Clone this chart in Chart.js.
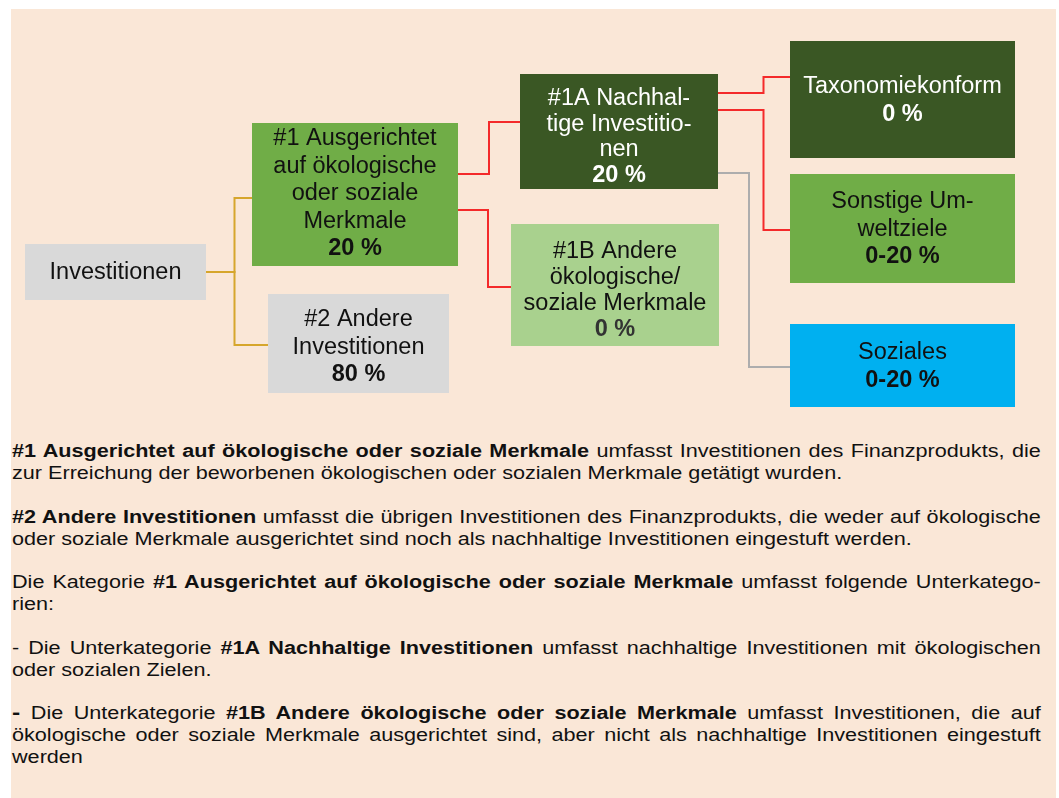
<!DOCTYPE html>
<html>
<head>
<meta charset="utf-8">
<script src="https://cdn.jsdelivr.net/npm/chart.js@4/dist/chart.umd.min.js"></script>
<style>
  html, body { margin: 0; padding: 0; background: #ffffff; }
  body { width: 1059px; height: 798px; position: relative; overflow: hidden; font-family: 'Liberation Sans', Arial, sans-serif; }
  #panel { position: absolute; left: 11px; top: 9px; width: 1045px; height: 800px; background: #FAE7D7; }
  #wrap { position: absolute; left: 0; top: 0; width: 1059px; height: 420px; }
  /* the printed notes are set a little wider than tall */
  #notes { position: absolute; left: 12px; top: 440px; width: 833px; font-size: 17.5px; line-height: 22px; color: #111; text-align: justify; transform: scaleX(1.235); transform-origin: 0 0; }
  #notes p { margin: 0 0 21.5px 0; }
  .dash { font-weight: bold; font-size: 20px; line-height: 0; }
</style>
</head>
<body>
<div id="panel"></div>
<div id="wrap"><canvas id="tree"></canvas></div>
<div id="notes">
  <p><b>#1 Ausgerichtet auf ökologische oder soziale Merkmale</b> umfasst Investitionen des Finanzprodukts, die zur Erreichung der beworbenen ökologischen oder sozialen Merkmale getätigt wurden.</p>
  <p><b>#2 Andere Investitionen</b> umfasst die übrigen Investitionen des Finanzprodukts, die weder auf ökologische oder soziale Merkmale ausgerichtet sind noch als nachhaltige Investitionen eingestuft werden.</p>
  <p>Die Kategorie <b>#1 Ausgerichtet auf ökologische oder soziale Merkmale</b> umfasst folgende Unterkatego&shy;rien:</p>
  <p>- Die Unterkategorie <b>#1A Nachhaltige Investitionen</b> umfasst nachhaltige Investitionen mit ökologischen oder sozialen Zielen.</p>
  <p><span class="dash">-</span> Die Unterkategorie <b>#1B Andere ökologische oder soziale Merkmale</b> umfasst Investitionen, die auf ökologische oder soziale Merkmale ausgerichtet sind, aber nicht als nachhaltige Investitionen eingestuft werden</p>
</div>
<script>
// categories of the tree, as printed in the boxes
const nodeLines = [
  ['Investitionen'],
  ['#1 Ausgerichtet', 'auf ökologische', 'oder soziale', 'Merkmale'],
  ['#2 Andere', 'Investitionen'],
  ['#1A Nachhal-', 'tige Investitio-', 'nen'],
  ['#1B Andere', 'ökologische/', 'soziale Merkmale'],
  ['Taxonomiekonform'],
  ['Sonstige Um-', 'weltziele'],
  ['Soziales']
];
// share of investments per node
const nodeShares = ['', '20 %', '80 %', '20 %', '0 %', '0 %', '0-20 %', '0-20 %'];
// parent -> child links
const links = [[0, 1], [0, 2], [1, 3], [1, 4], [3, 5], [3, 6], [3, 7]];

// layout (diagram units = px of the 1059x420 drawing area)
const boxes = [
  { x0: 25, x1: 206, y0: 244, y1: 300, lh: 27 },
  { x0: 252, x1: 458, y0: 123, y1: 266, lh: 27.5 },
  { x0: 268, x1: 449, y0: 294, y1: 393, lh: 27.5 },
  { x0: 520, x1: 718, y0: 74, y1: 189, lh: 25.5 },
  { x0: 511, x1: 719, y0: 224, y1: 346, lh: 26 },
  { x0: 790, x1: 1015, y0: 41, y1: 158, lh: 28 },
  { x0: 790, x1: 1015, y0: 174, y1: 283, lh: 27.5 },
  { x0: 790, x1: 1015, y0: 324, y1: 407, lh: 28 }
];
const boxStyle = [
  { fill: '#D9D9D9', text: '#111111', share: '#111111' },
  { fill: '#70AD47', text: '#111111', share: '#111111' },
  { fill: '#D9D9D9', text: '#111111', share: '#111111' },
  { fill: '#3A5724', text: '#FFFFFF', share: '#FFFFFF' },
  { fill: '#A9D18E', text: '#111111', share: '#333333' },
  { fill: '#3A5724', text: '#FFFFFF', share: '#FFFFFF' },
  { fill: '#70AD47', text: '#111111', share: '#111111' },
  { fill: '#00B0F0', text: '#111111', share: '#111111' }
];
const textShift = [0, -1.5, 3, 4.5, 5, 0.5, 0, 0.5];
// where each link leaves its parent, where it bends, where it enters the child
const linkStartY = [272, 272, 174, 210, 93, 110, 173];
const linkBendX = [234.5, 234.5, 489, 488, 763.5, 763.5, 749];
const linkEndY = [198, 345, 122, 287, 77, 230, 367];
const linkColor = ['#D6A62C', '#D6A62C', '#F42A2A', '#F42A2A', '#F42A2A', '#F42A2A', '#ADADAD'];

const datasets = links.map(([p, c], i) => ({
  data: [
    { x: boxes[p].x1, y: linkStartY[i] },
    { x: linkBendX[i], y: linkStartY[i] },
    { x: linkBendX[i], y: linkEndY[i] },
    { x: boxes[c].x0, y: linkEndY[i] }
  ],
  showLine: true,
  borderColor: linkColor[i],
  borderWidth: 2,
  pointRadius: 0,
  fill: false,
  tension: 0
}));

const boxPlugin = {
  id: 'boxes',
  afterDatasetsDraw(chart) {
    const ctx = chart.ctx;
    const xs = chart.scales.x, ys = chart.scales.y;
    boxes.forEach((b, i) => {
      const left = xs.getPixelForValue(b.x0), right = xs.getPixelForValue(b.x1);
      const top = ys.getPixelForValue(b.y0), bottom = ys.getPixelForValue(b.y1);
      ctx.save();
      ctx.fillStyle = boxStyle[i].fill;
      ctx.fillRect(left, top, right - left, bottom - top);
      const lines = nodeLines[i].slice();
      if (nodeShares[i]) lines.push(nodeShares[i]);
      const cx = (left + right) / 2;
      const cy = (top + bottom) / 2 + textShift[i];
      const y0 = cy - (lines.length - 1) * b.lh / 2;
      ctx.textAlign = 'center';
      ctx.textBaseline = 'middle';
      lines.forEach((t, k) => {
        const isShare = nodeShares[i] && k === lines.length - 1;
        ctx.font = (isShare ? 'bold ' : '') + "23.5px 'Liberation Sans', Arial, sans-serif";
        ctx.fillStyle = isShare ? boxStyle[i].share : boxStyle[i].text;
        ctx.fillText(t, cx, y0 + k * b.lh + 1);
      });
      ctx.restore();
    });
  }
};

new Chart(document.getElementById('tree').getContext('2d'), {
  type: 'scatter',
  data: { datasets },
  options: {
    responsive: true,
    maintainAspectRatio: false,
    animation: false,
    events: [],
    layout: { padding: 0 },
    plugins: { legend: { display: false }, tooltip: { enabled: false } },
    scales: {
      x: { type: 'linear', min: 0, max: 1059, display: false },
      y: { type: 'linear', min: 0, max: 420, reverse: true, display: false }
    }
  },
  plugins: [boxPlugin]
});
</script>
</body>
</html>
